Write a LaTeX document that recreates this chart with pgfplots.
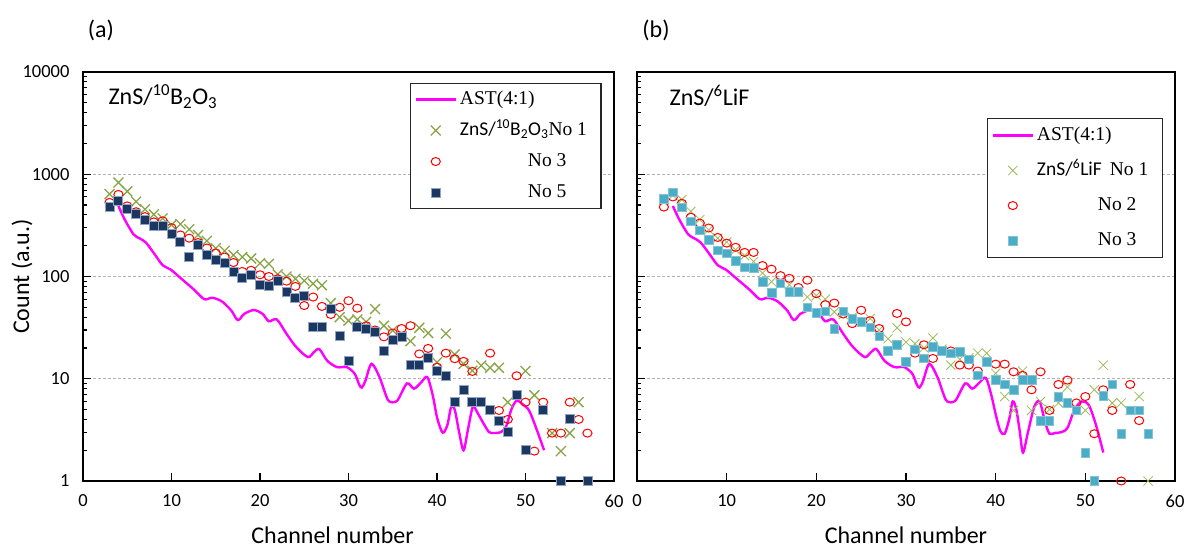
\documentclass[border=0pt]{standalone}
\usepackage{fontspec}
\setmainfont{Carlito}
\newfontfamily\tnr{Liberation Serif}
\usepackage{pgfplots}
\usepackage{pgfplotstable}
\pgfplotsset{compat=1.18}
\definecolor{xgreenA}{RGB}{137,165,72}
\definecolor{xgreenB}{RGB}{155,187,89}
\definecolor{navy}{RGB}{28,56,96}
\definecolor{navyedge}{RGB}{140,165,200}
\definecolor{aquafill}{RGB}{75,172,198}
\definecolor{aquaedge}{RGB}{130,195,215}
\definecolor{tanfill}{RGB}{240,200,140}
\definecolor{magentaL}{RGB}{255,0,255}

\pgfplotstableread{
x y
4 490
4.7 363
5.7 259
6.4 236
7.1 215
8.1 165
9.0 129
9.9 117
11.0 97
12.5 75
13.7 60
14.6 62
15.7 57
16.8 46
17.2 40
17.5 37.5
17.8 39
18.2 43
19.3 47
20.3 43
21.0 36.5
21.9 38
23.0 27.5
24.1 20.4
25.4 16.3
26.1 18.2
26.7 19.5
27.6 15
28.7 13
29.8 13
30.7 11.2
31.2 8.8
31.5 8.2
31.9 9.5
32.6 14
33.5 10.4
34.2 7
34.6 6.0
35.5 6.1
36.6 9
37.4 8
38.2 9.2
38.9 10.4
39.5 7
40.0 4.2
40.5 3.1
40.8 3.0
41.2 3.6
41.6 5.3
42.0 5.0
42.5 3.0
43.0 2.0
43.5 3.2
44.05 5.3
44.6 4.6
45.3 3.6
45.9 3.0
46.5 2.95
47.2 3.0
47.8 3.4
48.4 5.0
49.0 6.1
49.7 5.6
50.4 4.9
51.2 3.3
52.1 2.0
}\astA

\pgfplotstableread{
x y
4 490
4.7 363
5.7 259
6.4 236
7.1 215
8.1 165
9.0 129
9.9 117
11.0 97
12.5 75
13.7 60
14.6 62
15.7 57
16.8 46
17.2 40
17.5 37.5
17.8 39
18.2 43
19.3 47
20.3 43
21.0 36.5
21.9 38
23.0 27.5
24.1 20.4
25.4 16.3
26.1 18.2
26.7 19.5
27.6 15
28.7 13
29.8 13
30.7 11.2
31.2 8.8
31.5 8.2
31.9 9.5
32.6 14
33.5 10.4
34.2 7
34.6 6.0
35.5 6.1
36.6 9
37.4 8
38.2 9.2
38.9 10.2
39.5 7
40.0 4.5
40.5 3.1
41.0 2.9
41.5 4.0
41.9 6.0
42.3 5.0
42.7 3.0
43.05 1.9
43.6 3.0
44.3 5.3
44.9 6.0
45.5 3.8
46.0 2.9
46.6 2.95
47.3 3.0
48.0 3.3
48.8 5.0
49.6 6.0
50.4 5.5
51.2 3.5
52.0 1.9
}\astB

\pgfplotsset{
  linelegend/.style={legend image code/.code={\draw[##1] (0pt,0pt) -- (40pt,0pt);}},
  marklegend/.style={legend image code/.code={\path (0pt,-4pt) (40pt,4pt); \draw[##1] plot coordinates {(20pt,0pt)};}},
}

\begin{document}
\begin{tikzpicture}[x=1pt,y=1pt]
\useasboundingbox (-83,-69) rectangle (1102,481);

% ---------------- panel (a)
\begin{axis}[at={(0pt,0pt)}, width=531pt,
  scale only axis, height=409pt,
  ymode=log, xmin=0, xmax=60, ymin=1, ymax=10000,
  xtick={0,10,...,60}, xticklabels={0,10,20,30,40,50,60},
  ytick={1,10,100,1000,10000},
  minor ytick={2,3,4,5,6,7,8,9,20,30,40,50,60,70,80,90,200,300,400,500,600,700,800,900,2000,3000,4000,5000,6000,7000,8000,9000},
  tick align=inside, xtick pos=left, ytick pos=left,
  major tick length=8pt, minor tick length=4pt,
  every tick/.style={black, line width=1.1pt},
  axis line style={line width=2.2pt},
  ymajorgrids, major grid style={dash pattern=on 3pt off 2pt, black!30, line width=0.8pt},
  tick label style={font=\fontsize{18.5}{20}\selectfont},
  xticklabel style={yshift=-10pt},
  yticklabel style={xshift=-10pt},
  xlabel={Channel number},
  xlabel style={font=\fontsize{24}{26}\selectfont, at={(axis description cs:0.47,0)}, anchor=center, yshift=-54pt},
  clip=false,
  legend cell align=left,
  yticklabels={1,10,100,1000,10000},
  ylabel={Count (a.u.)},
  ylabel style={font=\fontsize{24}{26}\selectfont, at={(axis description cs:-0.115,0.5)}, anchor=center},
  legend style={at={(axis description cs:0.6158,0.9731)}, anchor=north west,
    draw=black!85, line width=1.1pt, fill=white, inner xsep=4pt, inner ysep=5pt,
    row sep=9pt, column sep=2pt,
    font=\fontsize{19.5}{21}\selectfont\tnr,
    nodes={inner sep=1pt, text height=15pt, text depth=5pt}},
]
\addplot[magentaL, line width=2.4pt, smooth, linelegend] table {\astA};
\addlegendentry{AST(4:1)}
\addplot[only marks, mark=x, mark size=7pt, color=xgreenA, line width=1.3pt, marklegend] table {
x y
3 640
4 830
5 680
6 540
7 455
8 405
9 370
10 320
11 325
12 290
13 255
14 223
15 189
16 178
17 162
18 155
19 150
20 135
21 133
22 105
23 100
24 95
25 91
26 85
27 82
28 55
29 40
30 37
31 38
32 36
33 48
34 33
35 29.6
36 26
37 23.3
38 31.5
39 28
40 14.5
41 27.6
42 17.3
43 14
44 12
45 13.5
46 12.8
47 12.8
48 5.9
50 11.9
51 6.9
53 2.94
54 1.96
55 2.94
56 5.9
};
\addlegendentry{{\normalfont ZnS/\textsuperscript{10}B\textsubscript{2}O\textsubscript{3}}No 1\hspace*{9pt}}
\addplot[only marks, mark=o, mark size=4pt, color=red, line width=1pt,
  mark options={fill=white, xscale=1.15}, marklegend] table {
x y
3 530
4 635
5 490
6 430
7 385
8 342
9 350
10 300
11 255
12 237
13 215
14 190
15 170
16 155
17 137
18 112
19 115
20 104
21 100
22 95
23 90
24 80
25 52
26 63
27 51
28 42.5
29 50
30 58
31 49
32 33
33 30
34 25.7
35 28
36 31
37 33
38 17.5
39 19.8
40 13
41 17.8
42 15.7
43 14.8
44 11.8
46 17.8
47 4.9
48 4
49 10.7
50 5.9
51 1.96
52 5.9
53 2.94
54 2.94
55 5.9
56 4
57 2.94
};
\addlegendentry{\hspace*{68pt}No 3}
\addplot[only marks, mark=square*, mark size=4.5pt, draw=navyedge, fill=navy, line width=0.9pt, marklegend] table {
x y
3 480
4 550
5 460
6 412
7 355
8 313
9 313
10 263
11 219
12 155
13 204
14 162
15 146
16 136
17 110
18 97
19 103
20 83
21 80
22 90
23 70
24 62
25 65
26 32
27 32
28 48
29 26.5
30 15
31 32
32 31
33 28.6
34 18.5
35 23.7
36 25.5
37 13.8
38 13.8
39 15.9
40 11.9
41 10.7
42 5.9
43 7.8
44 5.9
45 5.9
46 4.9
47 3.9
48 3
49 7
50 2
52 5
54 1
55 4
57 1
};
\addlegendentry{\hspace*{68pt}No 5}
\node[anchor=base west, font=\fontsize{24}{26}\selectfont] at (axis description cs:0.0414,0.921) {ZnS/\textsuperscript{10}B\textsubscript{2}O\textsubscript{3}};
\end{axis}

% ---------------- panel (b)
\begin{axis}[at={(554pt,0pt)}, width=538pt,
  scale only axis, height=409pt,
  ymode=log, xmin=0, xmax=60, ymin=1, ymax=10000,
  xtick={0,10,...,60}, xticklabels={0,10,20,30,40,50,60},
  ytick={1,10,100,1000,10000},
  minor ytick={2,3,4,5,6,7,8,9,20,30,40,50,60,70,80,90,200,300,400,500,600,700,800,900,2000,3000,4000,5000,6000,7000,8000,9000},
  tick align=inside, xtick pos=left, ytick pos=left,
  major tick length=8pt, minor tick length=4pt,
  every tick/.style={black, line width=1.1pt},
  axis line style={line width=2.2pt},
  ymajorgrids, major grid style={dash pattern=on 3pt off 2pt, black!30, line width=0.8pt},
  tick label style={font=\fontsize{18.5}{20}\selectfont},
  xticklabel style={yshift=-10pt},
  yticklabels={{},{},{},{},{}},
  xlabel={Channel number},
  xlabel style={font=\fontsize{24}{26}\selectfont, at={(axis description cs:0.5,0)}, anchor=center, yshift=-54pt},
  clip=false,
  legend cell align=left,
  legend style={at={(axis description cs:0.6506,0.8875)}, anchor=north west,
    draw=black!85, line width=1.1pt, fill=white, inner xsep=4pt, inner ysep=6pt,
    row sep=13pt, column sep=2pt,
    font=\fontsize{19.5}{21}\selectfont\tnr,
    nodes={inner sep=1pt, text height=15pt, text depth=5pt}},
]
\addplot[magentaL, line width=2.4pt, smooth, linelegend] table {\astB};
\addlegendentry{AST(4:1)}
\addplot[only marks, mark=x, mark size=6.5pt, color=xgreenB, line width=0.8pt, marklegend] table {
x y
3 560
4 620
5 565
6 433
7 360
8 286
9 237
10 217
11 182
12 160
13 140
14 108
15 89
16 85
17 83
18 72
19 63
20 65
21 60
22 45
23 42.4
24 40
25 36
26 38.8
27 30
28 24.6
29 31.5
30 22.8
31 22
32 20
33 25
34 19.5
35 13.6
36 15.5
37 16
38 17.8
39 17.8
40 11.3
41 6.7
42 4.9
43 11.9
44 4.9
45 6
46 5
47 5.8
48 8.3
50 4.9
51 7.8
52 13.6
53 5.8
54 5.8
55 4.9
56 6.7
57 1
};
\addlegendentry{{\normalfont ZnS/\textsuperscript{6}LiF}\hspace{8pt}No 1\hspace*{9pt}}
\addplot[only marks, mark=o, mark size=4pt, draw=red, line width=1pt,
  mark options={fill=tanfill, xscale=1.15}, marklegend] table {
x y
3 478
4 600
5 520
6 380
7 333
8 298
9 241
10 212
11 193
12 172
13 172
14 128
15 118
16 102
17 96
18 78
19 92
20 68
21 53
22 55
23 43
24 34.6
25 46.8
26 37
27 31
29 43.5
30 36
31 17.8
32 21.5
33 15.8
35 18.7
36 13.6
37 13.6
38 11.9
40 13.9
41 13.9
42 11.7
43 10.8
44 7.8
45 11.7
46 4.9
47 8.8
48 9.7
49 5.8
50 6.7
51 2.9
52 7.8
53 4.9
54 1
55 8.8
56 3.9
};
\addlegendentry{\hspace*{61pt}No 2}
\addplot[only marks, mark=square*, mark size=4.3pt, draw=aquaedge, fill=aquafill, line width=0.6pt, marklegend] table {
x y
3 577
4 665
5 475
6 346
7 283
8 228
9 180
10 169
11 142
12 123
13 122
14 89
15 69
16 86
17 71
18 71
19 50
20 44
21 45.6
22 31
23 45.6
24 38.6
25 36
26 32
27 26
28 18.7
29 21.5
30 14.6
31 19.5
32 15.8
33 20.5
34 18.7
35 17.8
36 18.3
37 15.5
38 10.8
39 14.6
40 9.8
41 8.8
42 7.8
43 9.8
44 9.8
45 3.9
46 3.9
47 6.7
48 5.8
49 4.9
50 1.9
51 1
52 6.8
53 8.8
54 2.9
55 4.9
56 4.9
57 2.9
};
\addlegendentry{\hspace*{61pt}No 3}
\node[anchor=base west, font=\fontsize{24}{26}\selectfont] at (axis description cs:0.054,0.917) {ZnS/\textsuperscript{6}LiF};
\end{axis}

\node[font=\fontsize{24}{26}\selectfont] at (18,451) {(a)};
\node[font=\fontsize{24}{26}\selectfont] at (573,451) {(b)};
\end{tikzpicture}
\end{document}
